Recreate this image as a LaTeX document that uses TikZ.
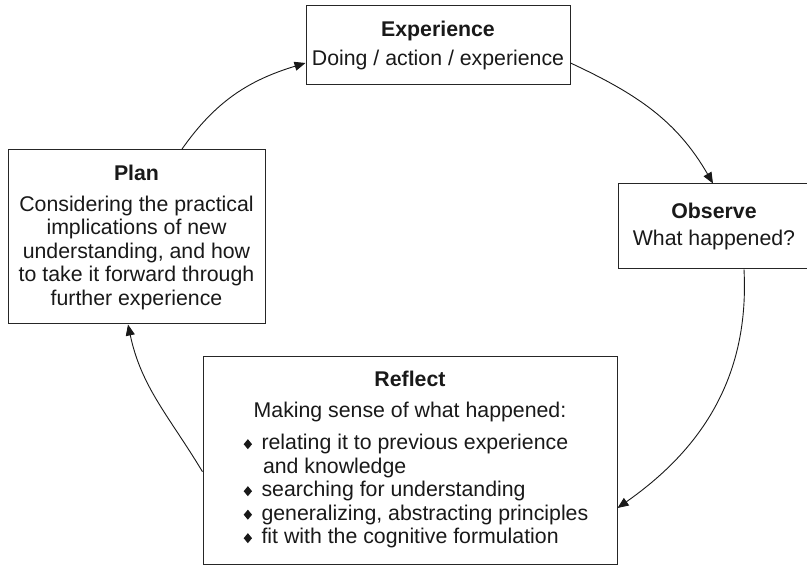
\documentclass[tikz,border=0pt]{standalone}
\usepackage{fontspec}
\setmainfont{Liberation Sans}
\usetikzlibrary{arrows.meta}
\newcommand{\dmd}{\raisebox{0.5pt}{\scalebox{1}[1.2]{\rotatebox{45}{\rule{5.9pt}{5.9pt}}}}}
\tikzset{
  box/.style={draw=black!85, line width=1pt, inner sep=0pt, align=center,
    font=\fontsize{21.3pt}{23.5pt}\selectfont, text=black!90},
  arr/.style={-{Triangle[length=11pt,width=9pt]}, line width=0.9pt, draw=black!90}
}
\begin{document}
\begin{tikzpicture}[x=1pt,y=1pt]
\path[use as bounding box, clip] (0,0) rectangle (807,565);
\fill[white] (0,0) rectangle (807,565);
\node[box, minimum width=264pt, minimum height=79pt] (exp) at (438,519.5)
  {\textbf{Experience}\\[6pt]Doing / action / experience};
\node[box, minimum width=257pt, minimum height=174pt] (plan) at (136.5,328)
  {\textbf{Plan}\\[7.5pt]Considering the practical\\implications of new\\understanding, and how\\to take it forward through\\further experience};
\node[box, minimum width=192pt, minimum height=85pt] (obs) at (714,338.5)
  {\textbf{Observe}\\[3pt]What happened?};
\node[box, minimum width=414pt, minimum height=207.5pt] (refl) at (410,104.25)
  {\textbf{Reflect}\\[8pt]Making sense of what happened:\\[8.5pt]
   \hspace*{12pt}\begin{tabular}[t]{@{}l@{\hspace{9.5pt}}l@{}}
   \dmd & relating it to previous experience\\
        & \hspace{1.5pt}and knowledge\\
   \dmd & searching for understanding\\
   \dmd & generalizing, abstracting principles\\
   \dmd & fit with the cognitive formulation
   \end{tabular}};
\draw[arr] ([xshift=45.2pt]plan.north) to[out=55,in=197] ([yshift=-17.5pt]exp.west);
\draw[arr] ([yshift=-17.5pt]exp.east) to[out=-25,in=120] ([xshift=-1pt]obs.north);
\draw[arr] ([xshift=30pt]obs.south) to[out=-87,in=35] ([yshift=-47.25pt]refl.east);
\draw[arr] ([yshift=-11pt]refl.west) to[out=121,in=-78] ([xshift=-8.5pt]plan.south);
\end{tikzpicture}
\end{document}
